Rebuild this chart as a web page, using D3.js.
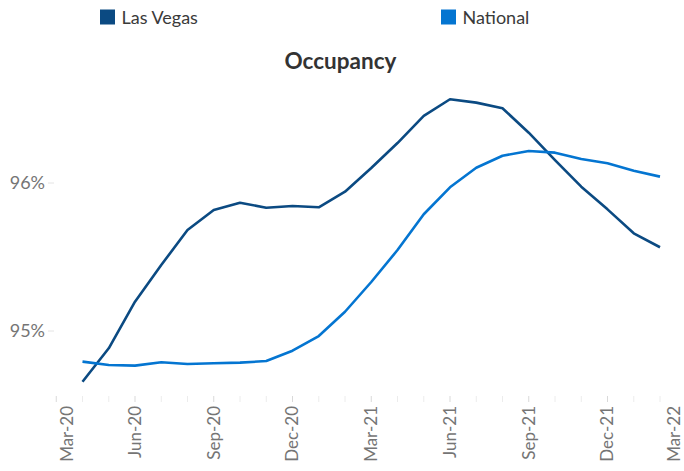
<!DOCTYPE html>
<html><head><meta charset="utf-8">
<script src="https://cdn.jsdelivr.net/npm/d3@7"></script>
<style>
body{margin:0;background:#fff;}
svg{display:block;font-family:Lato,"Open Sans",sans-serif;}
</style></head>
<body><svg id="c" width="684" height="471"></svg>
<script>
// Axis months (Mar-20 .. Mar-22)
const axisMonths = ["Mar-20","Apr-20","May-20","Jun-20","Jul-20","Aug-20","Sep-20","Oct-20","Nov-20","Dec-20",
  "Jan-21","Feb-21","Mar-21","Apr-21","May-21","Jun-21","Jul-21","Aug-21","Sep-21","Oct-21","Nov-21","Dec-21",
  "Jan-22","Feb-22","Mar-22"];
const tickLabels = ["Mar-20","Jun-20","Sep-20","Dec-20","Mar-21","Jun-21","Sep-21","Dec-21","Mar-22"];
// Data months
const categories = ["Apr-20","May-20","Jun-20","Jul-20","Aug-20","Sep-20","Oct-20","Nov-20","Dec-20",
  "Jan-21","Feb-21","Mar-21","Apr-21","May-21","Jun-21","Jul-21","Aug-21","Sep-21","Oct-21","Nov-21","Dec-21",
  "Jan-22","Feb-22"];
const lasVegas = [94.657,94.883,95.198,95.446,95.682,95.818,95.867,95.833,95.845,95.836,95.941,96.101,96.270,
  96.453,96.566,96.543,96.505,96.340,96.155,95.975,95.822,95.660,95.566];
const national = [94.793,94.770,94.766,94.789,94.777,94.782,94.786,94.797,94.867,94.966,95.130,95.331,95.547,
  95.789,95.971,96.103,96.184,96.216,96.205,96.162,96.133,96.083,96.043];
const yTicks = [95,96];
const seriesNames = ["Las Vegas","National"];
const colors = ["#0b4a82","#0475d1"];

const svg = d3.select("#c");
const x = d3.scalePoint().domain(axisMonths).range([56.25, 686.25]);
const y = d3.scaleLinear().domain([95,96]).range([331,183]);

// y axis ticks and labels
const yg = svg.append("g");
yTicks.forEach(t=>{
  yg.append("line").attr("x1",48).attr("x2",54).attr("y1",y(t)).attr("y2",y(t)).attr("stroke","#e4e4e4");
  yg.append("text").attr("x",45).attr("y",y(t)).attr("dy","0.35em").attr("text-anchor","end")
    .attr("fill","#757575").attr("font-size",18).text(d3.format(".0%")(t/100));
});

// x axis ticks
const xg = svg.append("g");
axisMonths.forEach(m=>{
  const major = tickLabels.includes(m);
  xg.append("line").attr("x1",x(m)).attr("x2",x(m)).attr("y1",396).attr("y2",402)
    .attr("stroke", major ? "#d9d9d9" : "#ececec");
});
tickLabels.forEach(m=>{
  const px = Math.max(67, Math.min(674, x(m)));
  xg.append("text").attr("transform",`translate(${px},406) rotate(-90)`)
    .attr("text-anchor","end").attr("dy","0.35em").attr("fill","#757575").attr("font-size",17).text(m);
});

// lines
const line = d3.line().x((d,i)=>x(categories[i])).y(d=>y(d));
[lasVegas, national].forEach((s,k)=>{
  svg.append("path").datum(s).attr("d",line).attr("fill","none").attr("stroke",colors[k])
    .attr("stroke-width",2.6).attr("stroke-linejoin","round");
});

// legend
const legendX = [100, 441];
seriesNames.forEach((n,k)=>{
  svg.append("rect").attr("x",legendX[k]).attr("y",9.5).attr("width",15).attr("height",15).attr("fill",colors[k]);
  svg.append("text").attr("x",legendX[k]+21.5).attr("y",24).attr("fill","#3a3a3a").attr("font-size",18).text(n);
});

// title
svg.append("text").attr("x",340.5).attr("y",69).attr("text-anchor","middle").attr("font-weight","bold")
  .attr("font-size",22.5).attr("fill","#333").text("Occupancy");
</script></body></html>
